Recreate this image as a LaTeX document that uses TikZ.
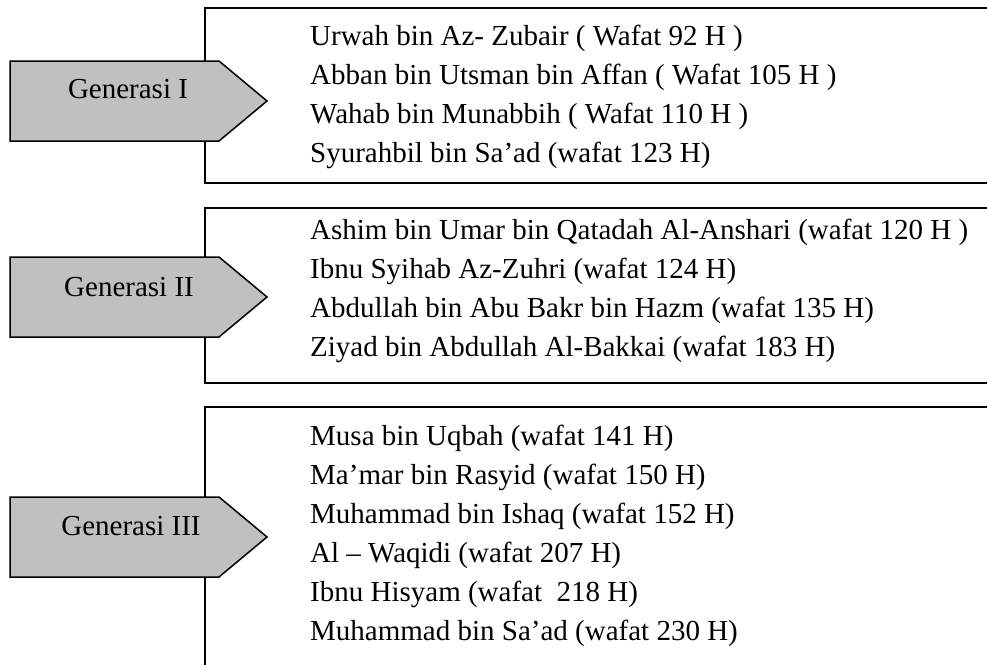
\documentclass[tikz,border=0pt]{standalone}
\usepackage{fontspec}
\setmainfont{Liberation Serif}
\definecolor{arrowgray}{RGB}{192,192,192}
\begin{document}
\begin{tikzpicture}[x=1pt,y=-1pt,
  boxline/.style={line width=2pt, draw=black},
  genarrow/.style={draw=black, line width=1.5pt, fill=arrowgray, line join=miter},
  gentext/.style={font=\fontsize{29}{35}\selectfont, anchor=base, inner sep=0pt},
  item/.style={font=\fontsize{29}{35}\selectfont, anchor=base west, inner sep=0pt}]
\useasboundingbox (0,0) rectangle (987,664);
\clip (0,0) rectangle (987,664);
\fill[white] (0,0) rectangle (987,664);
% boxes
\draw[boxline] (1000,8) -- (205,8) -- (205,183) -- (1000,183);
\draw[boxline] (1000,208) -- (205,208) -- (205,383) -- (1000,383);
\draw[boxline] (1000,407) -- (205,407) -- (205,680);
% arrows
\draw[genarrow] (10,61) -- (219,61) -- (267,101) -- (219,141) -- (10,141) -- cycle;
\draw[genarrow] (10,257) -- (219,257) -- (267,297) -- (219,337) -- (10,337) -- cycle;
\draw[genarrow] (10,497) -- (219,497) -- (267,537) -- (219,577) -- (10,577) -- cycle;
\node[gentext] (g1) at (128,98) {Generasi I};
\node[gentext] (g2) at (129,296) {Generasi II};
\node[gentext] (g3) at (131,535) {Generasi III};
% generation I
\node[item] (a1) at (310,45) {Urwah bin Az- Zubair ( Wafat 92 H )};
\node[item] (a2) at (310,84) {Abban bin Utsman bin Affan ( Wafat 105 H )};
\node[item] (a3) at (310,123) {Wahab bin Munabbih ( Wafat 110 H )};
\node[item] (a4) at (310,162) {Syurahbil bin Sa’ad (wafat 123 H)};
% generation II
\node[item] (b1) at (310,239) {Ashim bin Umar bin Qatadah Al-Anshari (wafat 120 H )};
\node[item] (b2) at (310,278) {Ibnu Syihab Az-Zuhri (wafat 124 H)};
\node[item] (b3) at (310,317) {Abdullah bin Abu Bakr bin Hazm (wafat 135 H)};
\node[item] (b4) at (310,356) {Ziyad bin Abdullah Al-Bakkai (wafat 183 H)};
% generation III
\node[item] (c1) at (310,445) {Musa bin Uqbah (wafat 141 H)};
\node[item] (c2) at (310,484) {Ma’mar bin Rasyid (wafat 150 H)};
\node[item] (c3) at (310,523) {Muhammad bin Ishaq (wafat 152 H)};
\node[item] (c4) at (310,562) {Al – Waqidi (wafat 207 H)};
\node[item] (c5) at (310,601) {Ibnu Hisyam (wafat~~218 H)};
\node[item] (c6) at (310,640) {Muhammad bin Sa’ad (wafat 230 H)};
\end{tikzpicture}
\end{document}
